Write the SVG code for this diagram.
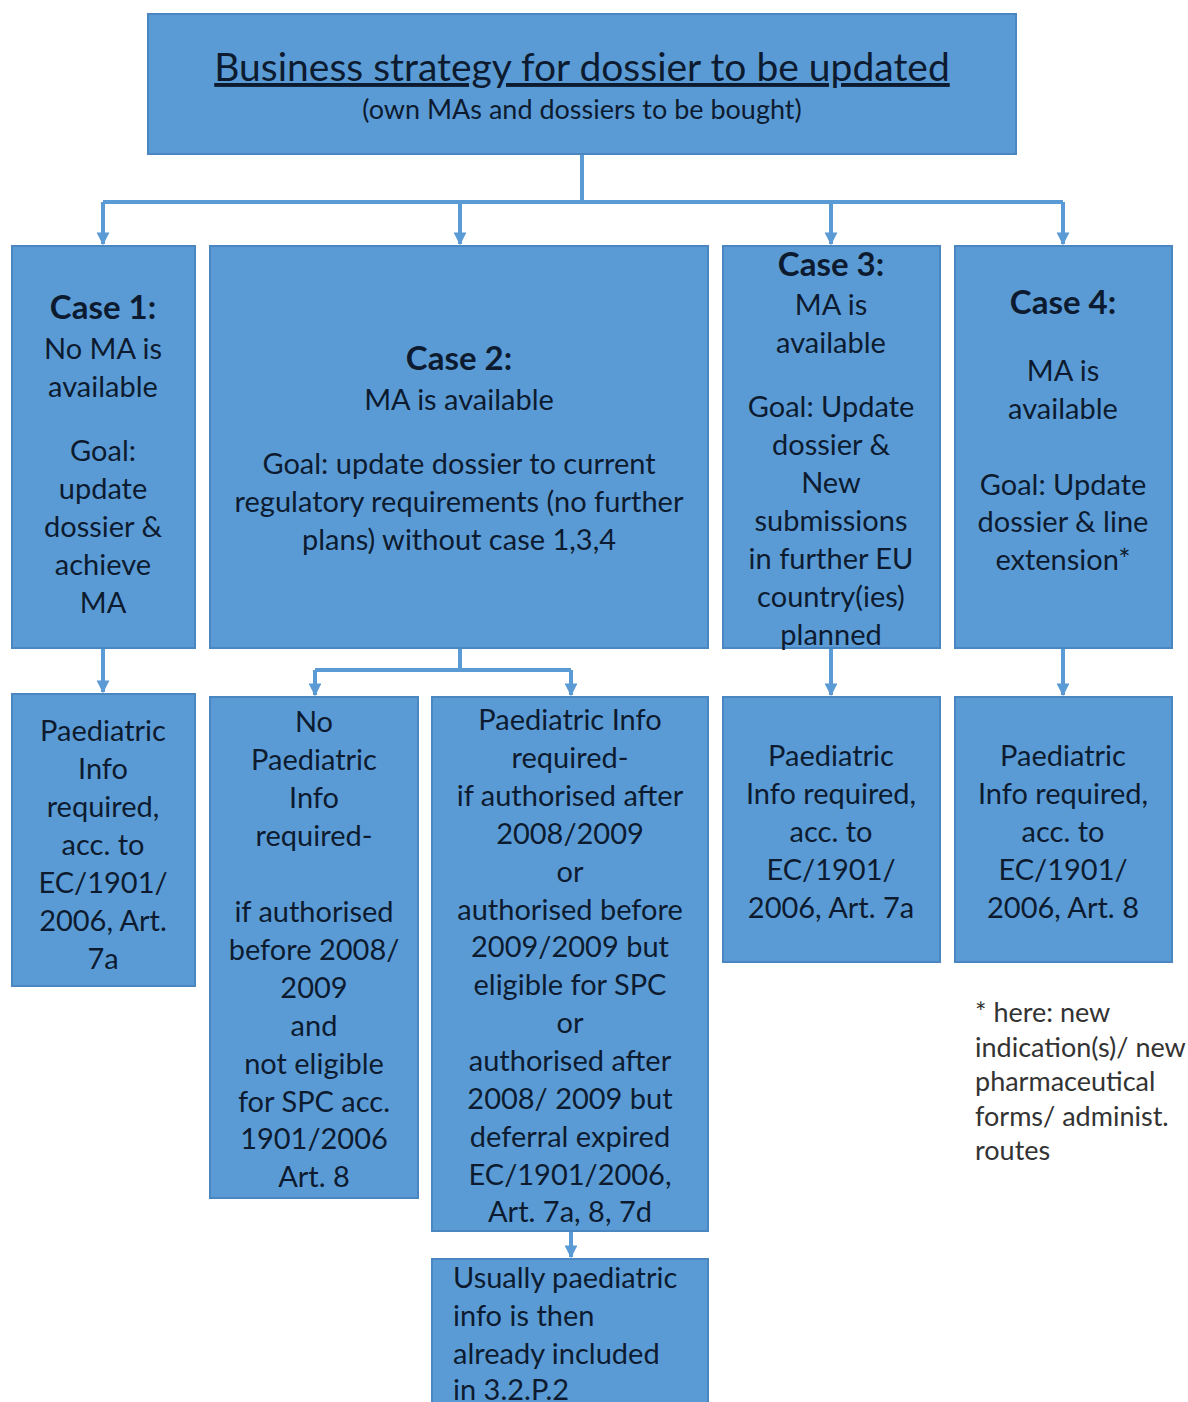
<svg xmlns="http://www.w3.org/2000/svg" width="1188" height="1402" viewBox="0 0 1188 1402">
  <style>
    .box { fill: #5b9bd5; stroke: #4a86bf; stroke-width: 2; }
    .t { font-family: Lato, "Open Sans", "Liberation Sans", sans-serif; font-size: 29px; fill: #0d1b30; text-anchor: middle; }
    .b { font-weight: bold; font-size: 33px; }
    .l { text-anchor: start; }
    .title { font-size: 39px; text-decoration: underline; }
    .sub { font-size: 27px; }
    .note { font-family: Lato, "Open Sans", "Liberation Sans", sans-serif; font-size: 27px; fill: #333333; }
    .wire { fill: none; stroke: #5b9bd5; stroke-width: 4; }
  </style>
  <defs>
    <marker id="arrow" viewBox="0 0 10 10" refX="9" refY="5" markerWidth="3.2" markerHeight="3.2" orient="auto">
      <path d="M0,0 L10,5 L0,10 z" fill="#5b9bd5"/>
    </marker>
  </defs>
  <rect width="1188" height="1402" fill="#ffffff"/>

  <g id="connectors">
    <path class="wire" d="M582,154 V202"/>
    <path class="wire" d="M103,202 H1063"/>
    <path class="wire" d="M103,202 V244" marker-end="url(#arrow)"/>
    <path class="wire" d="M460,202 V244" marker-end="url(#arrow)"/>
    <path class="wire" d="M831,202 V244" marker-end="url(#arrow)"/>
    <path class="wire" d="M1063,202 V244" marker-end="url(#arrow)"/>
    <path class="wire" d="M103,648 V692" marker-end="url(#arrow)"/>
    <path class="wire" d="M460,648 V670"/>
    <path class="wire" d="M315,670 H571"/>
    <path class="wire" d="M315,670 V695" marker-end="url(#arrow)"/>
    <path class="wire" d="M571,670 V695" marker-end="url(#arrow)"/>
    <path class="wire" d="M831,648 V695" marker-end="url(#arrow)"/>
    <path class="wire" d="M1063,648 V695" marker-end="url(#arrow)"/>
    <path class="wire" d="M571,1231 V1257" marker-end="url(#arrow)"/>
  </g>

  <g id="strategy">
    <rect class="box" x="148" y="14" width="868" height="140"/>
    <text class="t title" x="582" y="81">Business strategy for dossier to be updated</text>
    <text class="t sub" x="582" y="119">(own MAs and dossiers to be bought)</text>
  </g>

  <g id="case1">
    <rect class="box" x="12" y="246" width="183" height="402"/>
    <text class="t b" x="103" y="319">Case 1:</text>
    <text class="t" x="103" y="359">No MA is</text>
    <text class="t" x="103" y="397">available</text>
    <text class="t" x="103" y="461">Goal:</text>
    <text class="t" x="103" y="499">update</text>
    <text class="t" x="103" y="537">dossier &amp;</text>
    <text class="t" x="103" y="575">achieve</text>
    <text class="t" x="103" y="613">MA</text>
  </g>

  <g id="case2">
    <rect class="box" x="210" y="246" width="498" height="402"/>
    <text class="t b" x="459" y="370">Case 2:</text>
    <text class="t" x="459" y="410">MA is available</text>
    <text class="t" x="459" y="474">Goal: update dossier to current</text>
    <text class="t" x="459" y="512">regulatory requirements (no further</text>
    <text class="t" x="459" y="550">plans) without case 1,3,4</text>
  </g>

  <g id="case3">
    <rect class="box" x="723" y="246" width="217" height="402"/>
    <text class="t b" x="831" y="276">Case 3:</text>
    <text class="t" x="831" y="315">MA is</text>
    <text class="t" x="831" y="353">available</text>
    <text class="t" x="831" y="417">Goal: Update</text>
    <text class="t" x="831" y="455">dossier &amp;</text>
    <text class="t" x="831" y="493">New</text>
    <text class="t" x="831" y="531">submissions</text>
    <text class="t" x="831" y="569">in further EU</text>
    <text class="t" x="831" y="607">country(ies)</text>
    <text class="t" x="831" y="645">planned</text>
  </g>

  <g id="case4">
    <rect class="box" x="955" y="246" width="217" height="402"/>
    <text class="t b" x="1063" y="314">Case 4:</text>
    <text class="t" x="1063" y="381">MA is</text>
    <text class="t" x="1063" y="419">available</text>
    <text class="t" x="1063" y="495">Goal: Update</text>
    <text class="t" x="1063" y="532">dossier &amp; line</text>
    <text class="t" x="1063" y="570">extension*</text>
  </g>

  <g id="case1-paediatric">
    <rect class="box" x="12" y="694" width="183" height="292"/>
    <text class="t" x="103" y="741">Paediatric</text>
    <text class="t" x="103" y="779">Info</text>
    <text class="t" x="103" y="817">required,</text>
    <text class="t" x="103" y="855">acc. to</text>
    <text class="t" x="103" y="893">EC/1901/</text>
    <text class="t" x="103" y="931">2006, Art.</text>
    <text class="t" x="103" y="969">7a</text>
  </g>

  <g id="case2-no-paediatric">
    <rect class="box" x="210" y="697" width="208" height="501"/>
    <text class="t" x="314" y="732">No</text>
    <text class="t" x="314" y="770">Paediatric</text>
    <text class="t" x="314" y="808">Info</text>
    <text class="t" x="314" y="846">required-</text>
    <text class="t" x="314" y="922">if authorised</text>
    <text class="t" x="314" y="960">before 2008/</text>
    <text class="t" x="314" y="998">2009</text>
    <text class="t" x="314" y="1036">and</text>
    <text class="t" x="314" y="1074">not eligible</text>
    <text class="t" x="314" y="1112">for SPC acc.</text>
    <text class="t" x="314" y="1149">1901/2006</text>
    <text class="t" x="314" y="1187">Art. 8</text>
  </g>

  <g id="case2-paediatric">
    <rect class="box" x="432" y="697" width="276" height="534"/>
    <text class="t" x="570" y="730">Paediatric Info</text>
    <text class="t" x="570" y="768">required-</text>
    <text class="t" x="570" y="806">if authorised after</text>
    <text class="t" x="570" y="844">2008/2009</text>
    <text class="t" x="570" y="882">or</text>
    <text class="t" x="570" y="920">authorised before</text>
    <text class="t" x="570" y="957">2009/2009 but</text>
    <text class="t" x="570" y="995">eligible for SPC</text>
    <text class="t" x="570" y="1033">or</text>
    <text class="t" x="570" y="1071">authorised after</text>
    <text class="t" x="570" y="1109">2008/ 2009 but</text>
    <text class="t" x="570" y="1147">deferral expired</text>
    <text class="t" x="570" y="1185">EC/1901/2006,</text>
    <text class="t" x="570" y="1222">Art. 7a, 8, 7d</text>
  </g>

  <g id="case3-paediatric">
    <rect class="box" x="723" y="697" width="217" height="265"/>
    <text class="t" x="831" y="766">Paediatric</text>
    <text class="t" x="831" y="804">Info required,</text>
    <text class="t" x="831" y="842">acc. to</text>
    <text class="t" x="831" y="880">EC/1901/</text>
    <text class="t" x="831" y="918">2006, Art. 7a</text>
  </g>

  <g id="case4-paediatric">
    <rect class="box" x="955" y="697" width="217" height="265"/>
    <text class="t" x="1063" y="766">Paediatric</text>
    <text class="t" x="1063" y="804">Info required,</text>
    <text class="t" x="1063" y="842">acc. to</text>
    <text class="t" x="1063" y="880">EC/1901/</text>
    <text class="t" x="1063" y="918">2006, Art. 8</text>
  </g>

  <g id="usually-included">
    <rect class="box" x="432" y="1259" width="276" height="150"/>
    <text class="t l" x="453" y="1288">Usually paediatric</text>
    <text class="t l" x="453" y="1326">info is then</text>
    <text class="t l" x="453" y="1364">already included</text>
    <text class="t l" x="453" y="1400">in 3.2.P.2</text>
  </g>

  <g id="footnote">
    <text class="note" x="975" y="1022">* here: new</text>
    <text class="note" x="975" y="1057">indication(s)/ new</text>
    <text class="note" x="975" y="1091">pharmaceutical</text>
    <text class="note" x="975" y="1126">forms/ administ.</text>
    <text class="note" x="975" y="1160">routes</text>
  </g>
</svg>
